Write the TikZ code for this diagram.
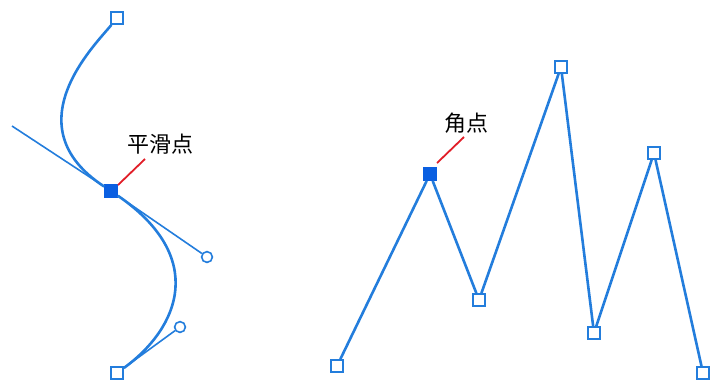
\documentclass[tikz,border=0pt]{standalone}
\usepackage{fontspec}
\newfontfamily\cjk{Noto Sans CJK SC}
\usetikzlibrary{positioning}
\definecolor{pathblue}{RGB}{35,125,220}
\definecolor{selblue}{RGB}{10,95,225}
\definecolor{calloutred}{RGB}{225,30,40}

\begin{document}
\begin{tikzpicture}[
    x=0.5pt, y=-0.5pt,
    anchorpt/.style={rectangle, draw=pathblue, fill=white, line width=0.9pt, minimum size=6pt, inner sep=0pt},
    selpt/.style={rectangle, draw=selblue, fill=selblue, line width=0.9pt, minimum size=6pt, inner sep=0pt},
    handlept/.style={circle, draw=pathblue, fill=white, line width=0.8pt, minimum size=5.4pt, inner sep=0pt},
    pathline/.style={draw=pathblue, line width=1.3pt},
    handleline/.style={draw=pathblue, line width=0.8pt},
    callout/.style={draw=calloutred, line width=0.9pt},
    lbl/.style={font=\cjk\fontsize{11}{13}\selectfont, inner sep=0pt},
]
\useasboundingbox (0,0) rectangle (710,382);
% smooth curve
\node[anchorpt] (ctop) at (117,18) {};
\node[selpt] (smooth) at (111,191) {};
\node[anchorpt] (cbot) at (117,373) {};
\node[handlept] (hright) at (207,257) {};
\node[handlept] (hbot) at (180,327) {};
\coordinate (hleft) at (12,126);
\coordinate (ctrltop) at (95,45);
\draw[pathline] (ctop) .. controls (ctrltop) and (hleft) .. (smooth);
\draw[pathline] (smooth) .. controls (hright) and (hbot) .. (cbot);
\draw[handleline] (hleft) -- (smooth);
\draw[handleline] (smooth) -- (hright);
\draw[handleline] (cbot) -- (hbot);
\node[lbl] (lblsmooth) at (160,144) {平滑点};
\coordinate (smtip) at (118,185);
\coordinate (smend) at (145,159);
\draw[callout] (smtip) -- (smend);
% corner path
\node[anchorpt] (p1) at (337,366) {};
\node[selpt] (corner) at (430,174) {};
\node[anchorpt] (p3) at (479,300) {};
\node[anchorpt] (p4) at (561,67) {};
\node[anchorpt] (p5) at (594,333) {};
\node[anchorpt] (p6) at (654,153) {};
\node[anchorpt] (p7) at (703,373) {};
\draw[pathline] (p1) -- (corner);
\draw[pathline] (corner) -- (p3);
\draw[pathline] (p3) -- (p4);
\draw[pathline] (p4) -- (p5);
\draw[pathline] (p5) -- (p6);
\draw[pathline] (p6) -- (p7);
\node[lbl] (lblcorner) at (466,123) {角点};
\coordinate (crtip) at (437,163);
\coordinate (crend) at (464,137);
\draw[callout] (crtip) -- (crend);
\end{tikzpicture}
\end{document}
